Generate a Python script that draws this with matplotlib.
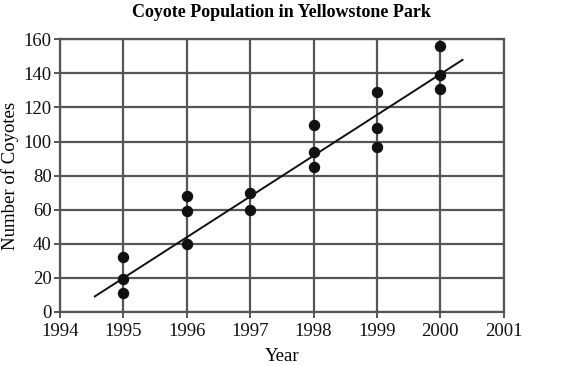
import numpy as np
import matplotlib.pyplot as plt

plt.rcParams['font.family'] = ['Liberation Serif', 'DejaVu Serif']

years = [1995, 1995, 1995, 1996, 1996, 1996, 1997, 1997,
         1998, 1998, 1998, 1999, 1999, 1999, 2000, 2000, 2000]
coyotes = [32, 19, 11, 68, 59, 40, 70, 60,
           110, 94, 85, 129, 108, 97, 156, 139, 131]

line_years = [1994.55, 2000.35]
line_values = [9, 148]

x_ticks = list(range(1994, 2002))
y_ticks = list(range(0, 161, 20))

grid_color = '#555555'

fig = plt.figure(figsize=(5.66, 3.65), dpi=100)
ax = fig.add_axes([0.106, 0.146, 0.784, 0.746])

ax.set_xlim(1994, 2001)
ax.set_ylim(0, 160)
ax.set_xticks(x_ticks)
ax.set_yticks(y_ticks)
ax.grid(True, color=grid_color, linewidth=1.6, zorder=0)
ax.set_axisbelow(True)
for s in ax.spines.values():
    s.set_color(grid_color)
    s.set_linewidth(1.6)
ax.tick_params(axis='both', colors=grid_color, length=4, width=1.4,
               labelsize=13.5, labelcolor='#111111')
ax.tick_params(axis='x', pad=4)
ax.tick_params(axis='y', pad=2)

ax.plot(line_years, line_values, color='#111111', linewidth=1.4, zorder=3)
ax.scatter(years, coyotes, s=52, color='#111111', zorder=4)

ax.set_title('Coyote Population in Yellowstone Park', fontsize=13,
             fontweight='bold', pad=16)
ax.set_xlabel('Year', fontsize=13.5, labelpad=6)
ax.set_ylabel('Number of Coyotes', fontsize=13.5, labelpad=3)

fig.savefig('out.png', dpi=100)
